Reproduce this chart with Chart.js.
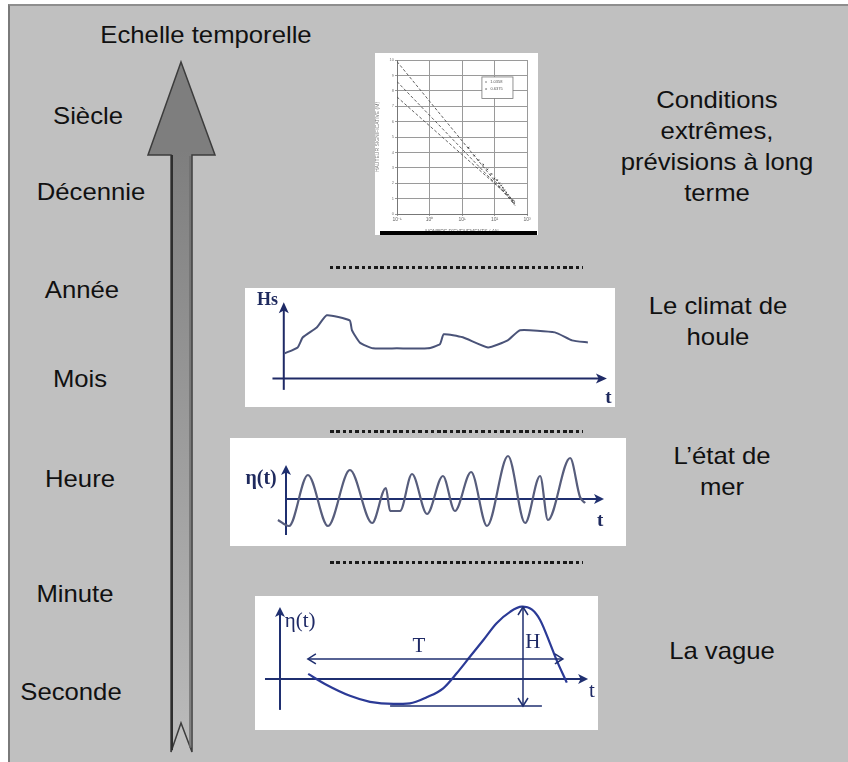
<!DOCTYPE html>
<html lang="fr">
<head>
<meta charset="utf-8">
<title>Echelle temporelle</title>
<script src="https://cdn.jsdelivr.net/npm/chart.js@4.4.1/dist/chart.umd.min.js"></script>
<style>
  html, body { margin: 0; padding: 0; background: #fff; }
  body { width: 848px; height: 762px; overflow: hidden; position: relative; font-family: "Liberation Sans", Arial, sans-serif; }
  #frame { position: absolute; left: 8px; top: 4px; width: 842px; height: 760px; background: #c0c0c0; border-left: 2px solid #7a7a7a; border-top: 2px solid #8e8e8e; }
  #arrow { position: absolute; left: 0; top: 0; }
  .lbl { position: absolute; font-size: 24px; line-height: 31px; color: #111; text-align: center; white-space: nowrap; transform: translateX(-50%) scaleX(1.07); }
  .panel { position: absolute; background: #fff; }
  .panel canvas { position: absolute; left: 0; top: 0; }
  .dots { position: absolute; left: 330px; width: 253px; height: 3px; background: repeating-linear-gradient(90deg, #1a1a1a 0 3.5px, transparent 3.5px 6.3px); }
  #scanbar { position: absolute; left: 380px; top: 231px; width: 157px; height: 4px; background: #000; }
</style>
</head>
<body>
<div id="frame"></div>

<svg id="arrow" width="848" height="762">
  <defs>
    <linearGradient id="shaft" gradientUnits="userSpaceOnUse" x1="0" y1="150" x2="0" y2="752">
      <stop offset="0" stop-color="#7e7e7e"/>
      <stop offset="1" stop-color="#bcbcbc"/>
    </linearGradient>
  </defs>
  <polygon points="181,62 215,155 192,155 192,752 181,723 171,752 171,155 148,155"
           fill="url(#shaft)" stroke="#3c3c3c" stroke-width="1.5"/>
  <line x1="172" y1="155" x2="172" y2="750" stroke="#2e2e2e" stroke-width="2"/>
  <line x1="190" y1="156" x2="190" y2="748" stroke="#6e6e6e" stroke-width="1.5"/>
</svg>

<!-- left: time scale -->
<div class="lbl" style="left:206px; top:19px">Echelle temporelle</div>
<div class="lbl" style="left:88px; top:100px">Siècle</div>
<div class="lbl" style="left:91px; top:176px">Décennie</div>
<div class="lbl" style="left:82px; top:274px">Année</div>
<div class="lbl" style="left:80px; top:363px">Mois</div>
<div class="lbl" style="left:80px; top:463px">Heure</div>
<div class="lbl" style="left:75px; top:578px">Minute</div>
<div class="lbl" style="left:71px; top:676px">Seconde</div>

<!-- right: what each panel is -->
<div class="lbl" style="left:717px; top:84px">Conditions<br>extrêmes,<br>prévisions à long<br>terme</div>
<div class="lbl" style="left:718px; top:290px">Le climat de<br>houle</div>
<div class="lbl" style="left:722px; top:440px">L’état de<br>mer</div>
<div class="lbl" style="left:722px; top:635px">La vague</div>

<div class="panel" style="left:375px; top:53px; width:163px; height:182px"><canvas id="scan" width="163" height="182"></canvas></div>
<div id="scanbar"></div>
<div class="panel" style="left:245px; top:288px; width:370px; height:119px"><canvas id="climat" width="370" height="119"></canvas></div>
<div class="panel" style="left:230px; top:438px; width:396px; height:108px"><canvas id="etat" width="396" height="108"></canvas></div>
<div class="panel" style="left:255px; top:596px; width:343px; height:134px"><canvas id="vague" width="343" height="134"></canvas></div>

<div class="dots" style="top:266px"></div>
<div class="dots" style="top:430px"></div>
<div class="dots" style="top:561px"></div>

<script>
// extreme value plot (scanned figure)
const scanXLabels = ['10⁻¹', '10⁰', '10¹', '10²', '10³']
const fitX = [0.1, 430]
const fitUpper = [9.9, 0.55]
const fitMid = [8.6, 0.65]
const fitLower = [7.6, 0.8]
const obsX = [16, 24, 32, 45, 60, 80, 100, 120, 140, 160, 180, 200, 230, 260, 300, 350, 400]
const obsY = [4.3, 3.8, 3.5, 3.2, 2.9, 2.6, 2.3, 2.2, 2.0, 1.85, 1.7, 1.55, 1.4, 1.25, 1.05, 0.9, 0.7]

// wave climate Hs(t)
const hsT = [0.3, 4.3, 5.9, 10.2, 13.3, 20.4, 21.1, 23.5, 27.6, 35, 44.6, 48.3, 49.5, 55.4, 63.2, 69.3, 73.1, 83.9, 89.2, 94.1]
const hsVal = [1.32, 1.63, 2.16, 2.68, 3.32, 3.05, 2.53, 1.89, 1.58, 1.58, 1.58, 1.79, 2.32, 2.16, 1.63, 2.0, 2.53, 2.42, 2.0, 1.89]

// sea state eta(t)
const seaT = [-2.7, 1.0, 7.3, 14.0, 21.3, 28.7, 33.3, 34.7, 38.0, 42.0, 47.0, 52.3, 56.3, 61.7, 67.0, 74.0, 79.7, 84.7, 87.3, 94.7, 98.0, 99.7]
const seaEta = [-2.1, -2.7, 2.4, -2.7, 2.9, -2.4, 1.1, -1.2, -1.2, 2.5, -1.5, 2.3, -1.2, 2.7, -2.7, 4.3, -2.4, 2.3, -2.1, 4.1, 0.2, -0.4]

// single wave
const waveT = [9.4, 15.6, 23.3, 30, 37.8, 43.3, 48.9, 54.4, 58.9, 63.3, 67.8, 72.2, 76.7, 80.6, 83.9, 86.7, 90, 92.2, 95.6]
const waveEta = [1.7, -2, -5.6, -7.6, -8.3, -8.1, -6.1, -3.1, 1.9, 7.4, 13, 18.6, 22.4, 24.1, 23.2, 19.7, 11.9, 6.3, -1.2]
const wavePeriod = [9.3, 94.3]   // T arrow, from..to
const waveHeight = [24, -9]      // H arrow, crest..trough

Chart.defaults.animation = false
Chart.defaults.font.family = '"Liberation Sans", Arial, sans-serif'

const pts = (xs, ys) => xs.map((x, i) => ({ x, y: ys[i] }))

function head(ctx, x, y, ang, len, half, open) {
  const bx = x - len * Math.cos(ang), by = y - len * Math.sin(ang)
  const nx = -Math.sin(ang) * half, ny = Math.cos(ang) * half
  ctx.beginPath()
  ctx.moveTo(bx + nx, by + ny)
  ctx.lineTo(x, y)
  ctx.lineTo(bx - nx, by - ny)
  if (open) { ctx.stroke(); return }
  ctx.lineTo(x - len * 0.75 * Math.cos(ang), y - len * 0.75 * Math.sin(ang))
  ctx.closePath()
  ctx.fill()
}

function arrowLine(chart, a, filled) {
  const { ctx, scales: { x, y } } = chart
  const x0 = x.getPixelForValue(a.x0), y0 = y.getPixelForValue(a.y0)
  const x1 = x.getPixelForValue(a.x1), y1 = y.getPixelForValue(a.y1)
  const ang = Math.atan2(y1 - y0, x1 - x0)
  ctx.beginPath()
  ctx.moveTo(x0, y0)
  ctx.lineTo(filled ? x1 - 6 * Math.cos(ang) : x1, filled ? y1 - 6 * Math.sin(ang) : y1)
  ctx.stroke()
  if (filled) head(ctx, x1, y1, ang, a.len || 11, a.half || 5, false)
  else {
    head(ctx, x1, y1, ang, 8, 5, true)
    if (a.both) head(ctx, x0, y0, ang + Math.PI, 8, 5, true)
  }
}

const sketch = {
  id: 'sketch',
  beforeDatasetsDraw(chart, args, o) {
    if (!o.axes) return
    const { ctx } = chart
    ctx.save()
    ctx.strokeStyle = o.axes.color
    ctx.fillStyle = o.axes.color
    ctx.lineWidth = o.axes.width
    arrowLine(chart, { x0: o.axes.xFrom, y0: 0, x1: o.axes.xTo, y1: 0, len: o.axes.len, half: o.axes.half }, true)
    arrowLine(chart, { x0: 0, y0: o.axes.yFrom, x1: 0, y1: o.axes.yTo, len: o.axes.len, half: o.axes.half }, true)
    ctx.restore()
  },
  afterDatasetsDraw(chart, args, o) {
    const { ctx, scales: { x, y } } = chart
    ctx.save()
    ;(o.segments || []).forEach(s => {
      ctx.strokeStyle = s.color; ctx.lineWidth = s.width
      ctx.beginPath()
      ctx.moveTo(x.getPixelForValue(s.x0), y.getPixelForValue(s.y0))
      ctx.lineTo(x.getPixelForValue(s.x1), y.getPixelForValue(s.y1))
      ctx.stroke()
    })
    ;(o.arrows || []).forEach(a => {
      ctx.strokeStyle = a.color; ctx.lineWidth = a.width
      arrowLine(chart, a, false)
    })
    if (o.box) {
      const b = o.box
      const bx0 = x.getPixelForValue(b.x0), bx1 = x.getPixelForValue(b.x1)
      const by0 = y.getPixelForValue(b.y0), by1 = y.getPixelForValue(b.y1)
      ctx.fillStyle = '#fff'
      ctx.fillRect(bx0, by0, bx1 - bx0, by1 - by0)
      ctx.strokeStyle = '#777'; ctx.lineWidth = 0.8
      ctx.strokeRect(bx0, by0, bx1 - bx0, by1 - by0)
      ctx.fillStyle = '#555'; ctx.font = '4px "Liberation Sans"'
      ctx.textBaseline = 'middle'
      b.lines.forEach((t, i) => ctx.fillText(t, bx0 + 3, by0 + 5 + i * 7))
    }
    ;(o.labels || []).forEach(l => {
      ctx.fillStyle = l.color; ctx.font = l.font
      ctx.textAlign = 'center'; ctx.textBaseline = 'middle'
      ctx.fillText(l.text, x.getPixelForValue(l.x), y.getPixelForValue(l.y))
    })
    ctx.restore()
  }
}
Chart.register(sketch)

const bare = (xmin, xmax, ymin, ymax) => ({
  x: { type: 'linear', display: false, min: xmin, max: xmax },
  y: { type: 'linear', display: false, min: ymin, max: ymax }
})
const quiet = { legend: { display: false }, tooltip: { enabled: false } }

// scanned extreme value graph
const fitLine = ys => ({ data: pts(fitX, ys), showLine: true, borderColor: '#505050', borderWidth: 0.9, borderDash: [3, 2], pointRadius: 0 })
new Chart(document.getElementById('scan'), {
  type: 'scatter',
  data: {
    datasets: [
      fitLine(fitUpper), fitLine(fitMid), fitLine(fitLower),
      { data: pts(obsX, obsY), pointRadius: 1.1, pointStyle: 'crossRot', borderColor: '#333', backgroundColor: '#333', borderWidth: 0.8 }
    ]
  },
  options: {
    responsive: false,
    layout: { padding: { top: 7, right: 11, left: 0, bottom: 0 } },
    scales: {
      x: {
        type: 'logarithmic', min: 0.1, max: 1000,
        afterBuildTicks: s => { s.ticks = s.ticks.filter(t => { const l = Math.log10(t.value); return Math.abs(l - Math.round(l)) < 1e-6 }) },
        afterFit: s => { s.height = 21 },
        ticks: { callback: v => scanXLabels[Math.round(Math.log10(v)) + 1], font: { size: 5 }, color: '#666', maxRotation: 0, autoSkip: false, padding: 1 },
        grid: { color: '#9a9a9a', tickLength: 2 },
        border: { color: '#777' },
        title: { display: true, text: "NOMBRE D'EVENEMENTS / AN", font: { size: 5 }, color: '#777', padding: 0 }
      },
      y: {
        min: 0, max: 10,
        afterFit: s => { s.width = 22 },
        ticks: { stepSize: 1, font: { size: 4 }, color: '#777', padding: 1 },
        grid: { color: '#9a9a9a', tickLength: 2 },
        border: { color: '#777' },
        title: { display: true, text: 'HAUTEUR SIGNIFICATIVE (M)', font: { size: 5 }, color: '#777', padding: 0 }
      }
    },
    plugins: {
      ...quiet,
      sketch: { box: { x0: 41, x1: 370, y0: 8.9, y1: 7.5, lines: ['x   1.0358', 'o   0.6375'] } }
    }
  }
})

// wave climate
new Chart(document.getElementById('climat'), {
  type: 'scatter',
  data: { datasets: [{ data: pts(hsT, hsVal), showLine: true, tension: 0.15, borderColor: '#4a5378', borderWidth: 2, pointRadius: 0 }] },
  options: {
    responsive: false,
    scales: bare(-12, 102.5, -1.5, 4.75),
    plugins: {
      ...quiet,
      sketch: {
        axes: { xFrom: -3.5, xTo: 100, yFrom: -0.6, yTo: 4.0, color: '#1f2a66', width: 2, len: 11, half: 5 },
        labels: [
          { text: 'Hs', x: -5, y: 4.1, font: 'bold 18px "Liberation Serif"', color: '#1f2a5e' },
          { text: 't', x: 100.5, y: -1.05, font: 'bold 19px "Liberation Serif"', color: '#1f2a5e' }
        ]
      }
    }
  }
})

// sea state
new Chart(document.getElementById('etat'), {
  type: 'scatter',
  data: { datasets: [{ data: pts(seaT, seaEta), showLine: true, cubicInterpolationMode: 'monotone', borderColor: '#575d7c', borderWidth: 2.2, pointRadius: 0 }] },
  options: {
    responsive: false,
    scales: bare(-18.67, 113.33, -4.7, 6.1),
    plugins: {
      ...quiet,
      sketch: {
        axes: { xFrom: 0, xTo: 106, yFrom: -3.6, yTo: 3.4, color: '#1f2f6f', width: 2, len: 10, half: 5 },
        labels: [
          { text: 'η(t)', x: -8.3, y: 2.0, font: 'bold 20px "Liberation Serif"', color: '#1f2a5e' },
          { text: 't', x: 104.7, y: -2.2, font: 'bold 19px "Liberation Serif"', color: '#1f2a5e' }
        ]
      }
    }
  }
})

// single wave with period T and height H
new Chart(document.getElementById('vague'), {
  type: 'scatter',
  data: { datasets: [{ data: pts(waveT, waveEta), showLine: true, cubicInterpolationMode: 'monotone', borderColor: '#2b3a96', borderWidth: 2.2, pointRadius: 0 }] },
  options: {
    responsive: false,
    scales: bare(-8.33, 106, -17, 27.67),
    plugins: {
      ...quiet,
      sketch: {
        axes: { xFrom: -5, xTo: 102.7, yFrom: -10.3, yTo: 24, color: '#1f2f70', width: 2, len: 10, half: 5 },
        segments: [{ x0: 36.7, y0: waveHeight[1], x1: 87.3, y1: waveHeight[1], color: '#1f2f70', width: 1.6 }],
        arrows: [
          { x0: wavePeriod[0], y0: 6.7, x1: wavePeriod[1], y1: 6.7, both: true, color: '#1f2f70', width: 1.5 },
          { x0: 81, y0: waveHeight[0], x1: 81, y1: waveHeight[1], both: true, color: '#1f2f70', width: 1.5 }
        ],
        labels: [
          { text: 'η(t)', x: 6.7, y: 19.3, font: '21px "Liberation Serif"', color: '#1f2a66' },
          { text: 'T', x: 46.3, y: 11, font: '21px "Liberation Serif"', color: '#1f2a66' },
          { text: 'H', x: 84.3, y: 12.3, font: '21px "Liberation Serif"', color: '#1f2a66' },
          { text: 't', x: 104, y: -4, font: '21px "Liberation Serif"', color: '#1f2a66' }
        ]
      }
    }
  }
})
</script>
</body>
</html>
